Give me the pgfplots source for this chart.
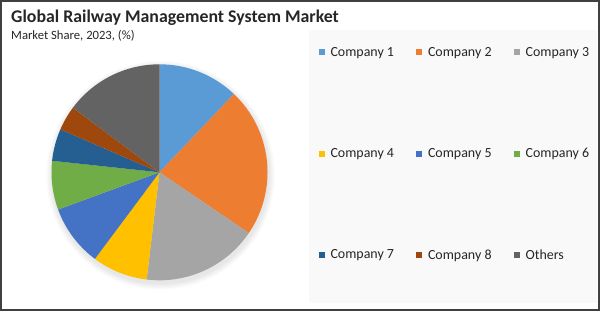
\documentclass[border=0pt]{standalone}
\usepackage{pgfplots}
\pgfplotsset{compat=1.18}
\usepackage{fontspec}
\setmainfont{Carlito}
\definecolor{c1}{HTML}{5B9BD5}
\definecolor{c2}{HTML}{ED7D31}
\definecolor{c3}{HTML}{A5A5A5}
\definecolor{c4}{HTML}{FFC000}
\definecolor{c5}{HTML}{4472C4}
\definecolor{c6}{HTML}{70AD47}
\definecolor{c7}{HTML}{255E91}
\definecolor{c8}{HTML}{9E480E}
\definecolor{c9}{HTML}{636363}
\definecolor{legbg}{HTML}{F9F9F9}
\definecolor{frame}{HTML}{404040}
\definecolor{titlec}{HTML}{262626}
% market shares (%), clockwise from 12 o'clock
\def\sA{12.1}\def\sB{22.4}\def\sC{17.4}\def\sD{8.3}\def\sE{9.2}
\def\sF{7.3}\def\sG{4.8}\def\sH{3.7}\def\sI{14.8}
\newcommand{\wedgeplot}[4]{% color, cum before, share, entry
  \addplot[fill=#1, draw=none, domain={90-3.6*(#2+#3)}:{90-3.6*(#2)}, samples=60, variable=\t]
    ({108*cos(\t)},{108*sin(\t)}) -- (axis cs:0,0) -- cycle;
  \addlegendentry{#4}}
\begin{document}
\begin{tikzpicture}[x=1bp,y=1bp]
\useasboundingbox (0,0) rectangle (600,311);
\fill[white] (0,0) rectangle (600,311);
\fill[legbg] (309,8) rectangle (597,281);
\foreach \k in {1,...,8}{\fill[black, opacity=0.012] (160.5,135.7) circle ({108+\k*0.8});}
\begin{axis}[at={(0,0)}, anchor=south west, x=1bp, y=1bp, hide axis,
  xmin=-159.5, xmax=440.5, ymin=-138.7, ymax=172.3, clip=false,
  legend image code/.code={\fill[#1] (0bp,-3bp) rectangle (6bp,3bp);},
  legend columns=3,
  legend cell align=left,
  legend style={at={(axis cs:158.8,126.5)}, anchor=north west, draw=none, fill=none,
    inner sep=0pt, font=\fontsize{14}{16}\selectfont, text=titlec,
    column sep=5bp, row sep=88.5bp,
    /tikz/every even column/.append style={column sep=21bp},
    nodes={inner sep=1bp}},
  ]
\wedgeplot{c1}{0}{\sA}{Company 1}
\wedgeplot{c2}{12.1}{\sB}{Company 2}
\wedgeplot{c3}{34.5}{\sC}{Company 3}
\wedgeplot{c4}{51.9}{\sD}{Company 4}
\wedgeplot{c5}{60.2}{\sE}{Company 5}
\wedgeplot{c6}{69.4}{\sF}{Company 6}
\wedgeplot{c7}{76.7}{\sG}{Company 7}
\wedgeplot{c8}{81.5}{\sH}{Company 8}
\wedgeplot{c9}{85.2}{\sI}{Others}
\end{axis}
\draw[frame, line width=2bp] (1,1) rectangle (599,310);
\node[anchor=west, inner sep=0pt, text=titlec, font=\bfseries\fontsize{17.9}{20}\selectfont] at (11,293) {Global Railway Management System Market};
\node[anchor=west, inner sep=0pt, text=titlec, font=\fontsize{12.7}{15}\selectfont] at (11,275) {Market Share, 2023, (\%)};
\end{tikzpicture}
\end{document}
